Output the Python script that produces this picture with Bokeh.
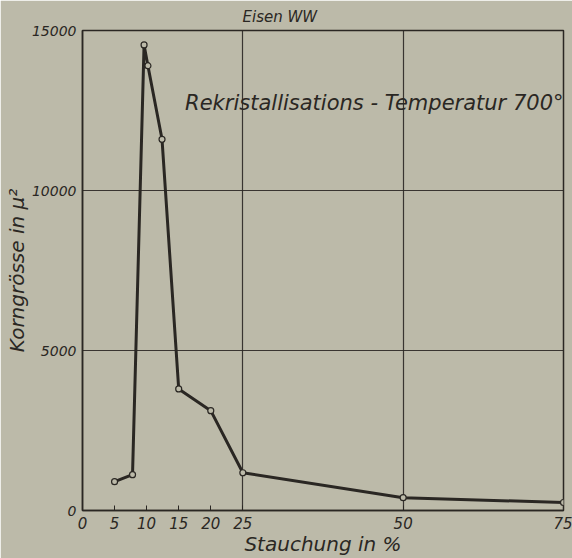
from bokeh.plotting import figure
from bokeh.models import FixedTicker, Range1d, ColumnDataSource
from bokeh.core.properties import value
from bokeh.embed import file_html
from bokeh.resources import INLINE

# Data
stauchung = [5, 7.8, 9.6, 10.2, 12.4, 15, 20, 25, 50, 75]
korngroesse = [900, 1120, 14550, 13900, 11600, 3800, 3120, 1180, 400, 250]
x_ticks = [0, 5, 10, 15, 20, 25, 50, 75]
y_ticks = [0, 5000, 10000, 15000]
x_grid = [25, 50]
y_grid = [5000, 10000]
title_text = "Eisen WW"
note_text = "Rekristallisations - Temperatur 700°"
x_label = "Stauchung in %"
y_label = "Korngrösse in μ²"

BG = "#bcbaa9"
INK = "#2a2723"
FONT = "DejaVu Sans"

p = figure(width=572, height=558, output_backend="svg", toolbar_location=None,
           x_range=Range1d(0, 75), y_range=Range1d(0, 15000),
           min_border_left=82, min_border_right=9, min_border_top=30, min_border_bottom=47)

p.background_fill_color = BG
p.border_fill_color = BG
p.outline_line_color = INK
p.outline_line_width = 1.5

p.title.text = title_text
p.title.align = "left"
p.title.offset = 160
p.title.text_font = FONT
p.title.text_font_style = "italic"
p.title.text_font_size = "15px"
p.title.text_color = INK
p.title.standoff = 10

for ax in (p.xaxis[0], p.yaxis[0]):
    ax.axis_line_color = INK
    ax.axis_line_width = 1.5
    ax.major_tick_line_color = INK
    ax.major_tick_in = 5
    ax.major_tick_out = 0
    ax.minor_tick_line_color = None
    ax.major_label_text_font = FONT
    ax.major_label_text_font_style = "italic"
    ax.major_label_text_color = INK
    ax.axis_label_text_font = FONT
    ax.axis_label_text_font_style = "italic"
    ax.axis_label_text_font_size = "20px"
    ax.axis_label_text_color = INK

p.xaxis.major_label_text_font_size = "15px"
p.yaxis.major_label_text_font_size = "14px"
p.xaxis.ticker = FixedTicker(ticks=x_ticks)
p.yaxis.ticker = FixedTicker(ticks=y_ticks)
p.xaxis.axis_label = x_label
p.yaxis.axis_label = y_label
p.xaxis.major_label_standoff = 6
p.xaxis.axis_label_standoff = 0
p.yaxis.major_label_standoff = 6
p.yaxis.axis_label_standoff = 0
p.yaxis.major_tick_line_color = None

p.xgrid.ticker = FixedTicker(ticks=x_grid)
p.ygrid.ticker = FixedTicker(ticks=y_grid)
for g in (p.xgrid[0], p.ygrid[0]):
    g.grid_line_color = INK
    g.grid_line_width = 1.2
    g.grid_line_alpha = 0.9

src = ColumnDataSource(dict(x=stauchung, y=korngroesse))
p.line("x", "y", source=src, line_color=INK, line_width=3)
p.scatter("x", "y", source=src, marker="circle", size=6,
          fill_color=BG, line_color=INK, line_width=1.2)

p.text(x=[16.0], y=[12750], text=[note_text], text_font=value(FONT),
       text_font_style="italic", text_font_size="21px", text_color=INK,
       text_baseline="middle", text_align="left")

open("out.html", "w").write(file_html(p, INLINE))
